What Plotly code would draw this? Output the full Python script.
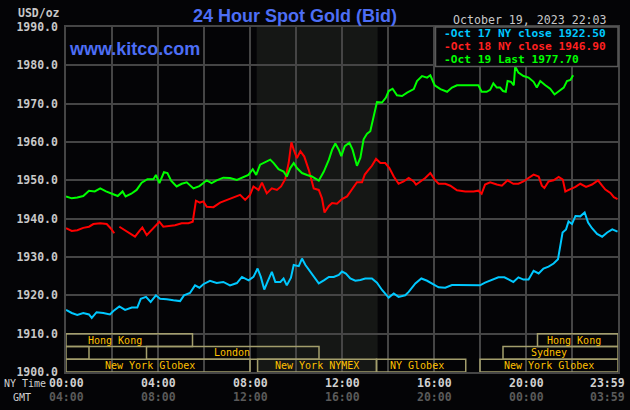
import plotly.graph_objects as go

# ---------------- data (hours since 00:00 NY time, USD/oz) ----------------
blue_t = [0.0, 0.25, 0.49, 0.75, 1.0, 1.12, 1.33, 1.62, 1.91, 2.06, 2.32, 2.57, 2.86, 3.1, 3.25, 3.48,
          3.68, 3.91, 4.09, 4.38, 4.67, 4.96, 5.13, 5.39, 5.61, 5.8, 5.97, 6.26, 6.55, 6.84, 7.13, 7.43,
          7.65, 7.94, 8.15, 8.33, 8.47, 8.62, 8.76, 8.95, 9.1, 9.32, 9.46, 9.6, 9.78, 9.9, 10.12, 10.26,
          10.41, 10.63, 10.84, 10.99, 11.21, 11.43, 11.64, 11.86, 12.0, 12.17, 12.36, 12.58, 12.8, 13.01,
          13.3, 13.52, 13.74, 14.03, 14.25, 14.46, 14.75, 14.9, 15.19, 15.45, 15.7, 15.99, 16.2, 16.49,
          16.78, 17.0, 17.36, 17.72, 18.0, 18.22, 18.51, 18.8, 19.06, 19.31, 19.45, 19.67, 19.89, 20.11,
          20.33, 20.55, 20.76, 20.98, 21.2, 21.39, 21.49, 21.59, 21.74, 21.85, 22.0, 22.15, 22.36, 22.55,
          22.7, 22.87, 23.09, 23.31, 23.53, 23.75, 23.98]
blue_v = [1916.2, 1915.4, 1914.9, 1915.4, 1915.0, 1914.1, 1915.6, 1915.4, 1915.0, 1915.9, 1917.1, 1916.2,
          1916.8, 1916.8, 1919.1, 1919.6, 1918.3, 1920.0, 1919.1, 1919.0, 1918.7, 1918.5, 1920.0, 1920.6,
          1922.6, 1922.0, 1922.9, 1923.8, 1923.2, 1923.5, 1922.6, 1923.2, 1924.8, 1923.9, 1924.8, 1927.0,
          1924.8, 1921.5, 1923.5, 1926.1, 1923.5, 1923.5, 1924.4, 1922.6, 1924.6, 1927.9, 1927.6, 1929.6,
          1927.9, 1926.1, 1924.4, 1923.1, 1923.9, 1924.8, 1924.8, 1925.3, 1926.2, 1925.7, 1924.4, 1923.8,
          1924.0, 1924.4, 1924.4, 1923.3, 1921.4, 1919.4, 1920.5, 1919.6, 1920.0, 1920.9, 1923.1, 1924.4,
          1923.8, 1922.7, 1922.1, 1922.0, 1922.7, 1922.7, 1922.6, 1922.6, 1922.6, 1923.3, 1924.1, 1924.7,
          1924.7, 1923.8, 1923.5, 1924.7, 1924.1, 1924.1, 1926.4, 1925.7, 1927.0, 1927.5, 1928.3, 1929.4,
          1933.1, 1936.4, 1937.2, 1939.3, 1938.6, 1940.7, 1940.6, 1941.6, 1939.0, 1937.5, 1936.0, 1935.3,
          1936.4, 1937.2, 1936.6]

red_t = [0.0, 0.25, 0.49, 0.75, 1.0, 1.19, 1.49, 1.77, 1.94, 2.1, 2.2, 2.32, 2.57, 2.78, 3.0, 3.17, 3.32,
         3.51, 3.72, 3.94, 4.06, 4.23, 4.45, 4.74, 5.03, 5.32, 5.51, 5.61, 5.65, 5.82, 5.97, 6.12, 6.41,
         6.7, 6.99, 7.28, 7.57, 7.79, 8.0, 8.15, 8.37, 8.52, 8.73, 8.95, 9.17, 9.35, 9.53, 9.68, 9.8,
         9.9, 10.04, 10.19, 10.36, 10.55, 10.77, 10.99, 11.13, 11.24, 11.43, 11.57, 11.78, 12.0, 12.22,
         12.43, 12.65, 12.87, 12.99, 13.16, 13.3, 13.48, 13.67, 13.88, 14.06, 14.25, 14.46, 14.68, 14.9,
         15.12, 15.22, 15.41, 15.62, 15.84, 16.03, 16.2, 16.49, 16.71, 17.0, 17.36, 17.72, 17.93, 18.07,
         18.22, 18.44, 18.73, 18.95, 19.2, 19.45, 19.67, 19.89, 20.11, 20.33, 20.55, 20.69, 20.8, 20.98,
         21.2, 21.42, 21.6, 21.71, 21.93, 22.15, 22.36, 22.61, 22.87, 23.13, 23.31, 23.45, 23.67, 23.82,
         23.98]
red_v = [1937.5, 1936.8, 1937.0, 1937.6, 1937.9, 1938.6, 1938.8, 1938.6, 1937.5, 1936.2, None, 1937.9,
         1937.0, 1936.2, 1935.3, 1936.6, 1937.7, 1935.7, 1937.0, 1938.3, 1939.2, 1937.9, 1938.1, 1938.3,
         1938.8, 1938.8, 1939.2, 1943.1, 1944.7, 1944.2, 1944.5, 1943.1, 1943.0, 1944.2, 1944.9, 1945.6,
         1946.2, 1944.9, 1946.2, 1948.4, 1947.5, 1949.4, 1946.6, 1947.9, 1947.5, 1948.4, 1950.3, 1954.5,
         1959.9, 1958.0, 1955.8, 1957.6, 1956.2, 1952.8, 1947.9, 1947.5, 1945.3, 1941.6, 1943.3, 1944.1,
         1943.9, 1945.1, 1945.8, 1947.6, 1949.5, 1949.5, 1951.5, 1952.8, 1953.8, 1955.6, 1954.5, 1954.5,
         1953.2, 1951.0, 1949.1, 1949.7, 1950.6, 1949.7, 1948.9, 1949.7, 1950.6, 1951.9, 1950.2, 1949.1,
         1949.1, 1948.6, 1947.4, 1947.1, 1947.1, 1947.3, 1946.5, 1948.9, 1949.5, 1948.9, 1948.6, 1950.0,
         1949.1, 1949.1, 1949.7, 1950.6, 1951.5, 1951.0, 1948.6, 1948.0, 1949.7, 1950.0, 1950.9, 1950.2,
         1947.1, 1947.7, 1948.3, 1949.1, 1948.3, 1948.9, 1950.0, 1948.6, 1947.6, 1946.7, 1945.6, 1945.1]

green_t = [0.0, 0.25, 0.49, 0.75, 1.0, 1.25, 1.49, 1.74, 2.0, 2.25, 2.46, 2.59, 2.84, 3.07, 3.29, 3.54,
           3.8, 3.91, 4.06, 4.26, 4.41, 4.57, 4.81, 5.03, 5.25, 5.54, 5.8, 6.12, 6.33, 6.55, 6.84, 7.13,
           7.43, 7.72, 7.93, 8.12, 8.27, 8.44, 8.66, 8.88, 9.03, 9.24, 9.46, 9.6, 9.75, 9.9, 10.04, 10.26,
           10.48, 10.69, 10.99, 11.21, 11.43, 11.57, 11.71, 11.86, 11.97, 12.12, 12.32, 12.46, 12.65, 12.8,
           12.94, 13.09, 13.23, 13.38, 13.52, 13.74, 13.91, 14.03, 14.2, 14.39, 14.61, 14.83, 15.12, 15.26,
           15.48, 15.7, 15.84, 16.03, 16.28, 16.57, 16.78, 17.0, 17.36, 17.72, 17.93, 18.07, 18.29, 18.44,
           18.58, 18.73, 18.87, 19.0, 19.12, 19.2, 19.35, 19.47, 19.53, 19.67, 19.89, 20.11, 20.33, 20.47,
           20.62, 20.84, 21.05, 21.24, 21.42, 21.64, 21.78, 21.93, 22.05]
green_v = [1945.8, 1945.3, 1945.5, 1945.9, 1947.3, 1947.1, 1947.9, 1947.1, 1946.5, 1945.9, 1947.1, 1945.8,
           1946.5, 1947.5, 1949.4, 1950.3, 1950.3, 1951.4, 1949.3, 1952.1, 1951.9, 1949.9, 1948.4, 1949.1,
           1949.5, 1947.9, 1948.5, 1950.0, 1949.3, 1950.0, 1950.7, 1950.6, 1950.1, 1950.8, 1951.4, 1952.9,
           1951.4, 1954.1, 1954.7, 1955.4, 1954.5, 1952.9, 1952.3, 1951.0, 1953.2, 1954.5, 1953.2, 1951.9,
           1951.4, 1951.0, 1949.9, 1952.3, 1955.4, 1958.0, 1959.6, 1958.0, 1956.3, 1958.9, 1959.8, 1958.0,
           1953.8, 1955.9, 1960.7, 1962.2, 1962.8, 1967.2, 1970.4, 1970.3, 1971.6, 1973.3, 1973.9, 1972.2,
           1972.0, 1972.9, 1973.8, 1975.9, 1977.2, 1976.8, 1977.4, 1974.8, 1973.8, 1973.1, 1974.2, 1974.8,
           1974.8, 1974.8, 1974.8, 1973.1, 1973.1, 1973.6, 1975.3, 1974.2, 1974.2, 1973.3, 1973.1, 1975.9,
           1975.7, 1974.8, 1979.7, 1978.1, 1977.2, 1976.8, 1975.7, 1974.2, 1975.9, 1974.8, 1973.9, 1972.4,
           1973.3, 1974.2, 1975.9, 1976.2, 1977.4]

legend_lines = ["-Oct 17 NY close 1922.50", "-Oct 18 NY close 1946.90", "-Oct 19 Last 1977.70"]
y_ticks = [1900, 1910, 1920, 1930, 1940, 1950, 1960, 1970, 1980, 1990]
ny_labels = ["00:00", "04:00", "08:00", "12:00", "16:00", "20:00", "23:59"]
gmt_labels = ["04:00", "08:00", "12:00", "16:00", "20:00", "00:00", "03:59"]
label_hours = [0, 4, 8, 12, 16, 20, 23.55]

# sessions: (name, start hour, end hour, row, label hour)
sessions = [
    ("Hong Kong", 0.0, 5.5, 0, 2.13),
    ("Hong Kong", 20.5, 24.0, 0, 22.1),
    ("", 0.0, 1.0, 1, 0.5),
    ("London", 3.5, 11.0, 1, 7.2),
    ("Sydney", 19.0, 24.0, 1, 21.0),
    ("New York Globex", 0.0, 8.0, 2, 3.65),
    ("New York NYMEX", 8.33, 13.5, 2, 10.9),
    ("NY Globex", 13.5, 17.38, 2, 15.25),
    ("New York Globex", 18.0, 24.0, 2, 21.0),
]
nymex_hours = (8.29, 13.55)

# ---------------- layout helpers ----------------
W, H = 630, 410
L, R, T, B = 66, 12, 27, 38
PW, PH = W - L - R, H - T - B


def px(x, y):
    return (x - L) / PW, (H - B - y) / PH


BG = "#040406"
GRID = "#454545"
MONO = "DejaVu Sans Mono"
SANS = "Liberation Sans"
GOLD = "#ffc000"
BOX = "#a39e6c"

fig = go.Figure()
fig.add_trace(go.Scatter(x=blue_t, y=blue_v, mode="lines", line=dict(color="#00c8ff", width=2)))
fig.add_trace(go.Scatter(x=red_t, y=red_v, mode="lines", line=dict(color="#ff0000", width=2)))
fig.add_trace(go.Scatter(x=green_t, y=green_v, mode="lines", line=dict(color="#00ff00", width=2)))

shapes = [dict(type="rect", xref="x", yref="paper", x0=nymex_hours[0], x1=nymex_hours[1], y0=0, y1=1,
               fillcolor="#151715", line=dict(width=0), layer="below")]

rows = [(1906.67, 1910.0), (1903.33, 1906.67), (1900.0, 1903.33)]
annotations = []
for name, s, e, r, lh in sessions:
    y0, y1 = rows[r]
    shapes.append(dict(type="rect", xref="x", yref="y", x0=s, x1=e, y0=y0, y1=y1,
                       line=dict(color=BOX, width=1.5), layer="above"))
    if name:
        annotations.append(dict(x=lh, y=(y0 + y1) / 2, xref="x", yref="y", text=name, showarrow=False,
                                font=dict(family=MONO, size=10, color=GOLD), xanchor="center",
                                yanchor="middle"))

# legend box
lx0, ly0 = px(435.5, 66.5)
shapes.append(dict(type="rect", xref="paper", yref="paper", x0=lx0, x1=1.0, y0=ly0, y1=1.0,
                   fillcolor=BG, line=dict(color="#5a5a5a", width=1.5), layer="above"))
leg_colors = ["#00c8ff", "#ff2020", "#00ff00"]
leg_y = [33.3, 46.3, 59.3]
for txt, c, yy in zip(legend_lines, leg_colors, leg_y):
    ax, ay = px(441.5, yy)
    annotations.append(dict(x=ax, y=ay, xref="paper", yref="paper", text=txt, showarrow=False,
                            xanchor="left", yanchor="middle", height=12,
                            font=dict(family=MONO, size=11.2, color=c, weight="bold")))

# title, site, date, units
tx, ty = px(294.5, 16)
annotations.append(dict(x=tx, y=ty, xref="paper", yref="paper", text="24 Hour Spot Gold (Bid)",
                        showarrow=False, xanchor="center", yanchor="middle",
                        font=dict(family=SANS, size=18, color="#4d6ef5", weight="bold")))
sx, sy = px(67, 49)
annotations.append(dict(x=sx, y=sy, xref="paper", yref="paper", text="www.kitco.com", showarrow=False,
                        xanchor="left", yanchor="middle",
                        font=dict(family=SANS, size=18, color="#4d6ef5", weight="bold")))
dx, dy = px(609, 20)
annotations.append(dict(x=dx, y=dy, xref="paper", yref="paper", text="October 19, 2023 22:03",
                        showarrow=False, xanchor="right", yanchor="middle",
                        font=dict(family=MONO, size=11.6, color="#c8c8c8")))
ux, uy = px(62, 13)
annotations.append(dict(x=ux, y=uy, xref="paper", yref="paper", text="USD/oz", showarrow=False,
                        xanchor="right", yanchor="middle",
                        font=dict(family=MONO, size=11.5, color="#c8c8c8", weight="bold")))

# time labels
for h, ny, gmt in zip(label_hours, ny_labels, gmt_labels):
    annotations.append(dict(x=h, y=px(0, 383)[1], xref="x", yref="paper", text=ny, showarrow=False,
                            xanchor="center", yanchor="middle",
                            font=dict(family=MONO, size=11.5, color="#d0d0d0", weight="bold")))
    annotations.append(dict(x=h, y=px(0, 397)[1], xref="x", yref="paper", text=gmt, showarrow=False,
                            xanchor="center", yanchor="middle",
                            font=dict(family=MONO, size=11.5, color="#5a5a5a", weight="bold")))
nx, ny_ = px(2, 383)
annotations.append(dict(x=nx, y=ny_, xref="paper", yref="paper", text="NY Time", showarrow=False,
                        xanchor="left", yanchor="middle", font=dict(family=MONO, size=10, color="#d0d0d0")))
gx, gy = px(11, 397)
annotations.append(dict(x=gx, y=gy, xref="paper", yref="paper", text="GMT", showarrow=False,
                        xanchor="left", yanchor="middle", font=dict(family=MONO, size=10, color="#d0d0d0")))

fig.update_layout(
    width=W, height=H,
    margin=dict(l=L, r=R, t=T, b=B, autoexpand=False),
    paper_bgcolor=BG, plot_bgcolor=BG,
    showlegend=False,
    shapes=shapes, annotations=annotations,
    xaxis=dict(range=[0, 24], dtick=2, tick0=0, showgrid=True, gridcolor=GRID, gridwidth=1.5,
               showticklabels=False, zeroline=False, showline=True, linecolor=GRID, linewidth=1.5,
               mirror=True, ticks="", fixedrange=True),
    yaxis=dict(range=[1900, 1990], tickvals=y_ticks, ticktext=[f"{v:.1f}" for v in y_ticks],
               showgrid=True, gridcolor=GRID, gridwidth=1.5, zeroline=False, showline=True,
               linecolor=GRID, linewidth=1.5, mirror=True, ticks="", ticklabelstandoff=4,
               automargin=False,
               tickfont=dict(family=MONO, size=11.5, color="#c8c8c8", weight="bold")),
)

fig.write_html("out.html")
